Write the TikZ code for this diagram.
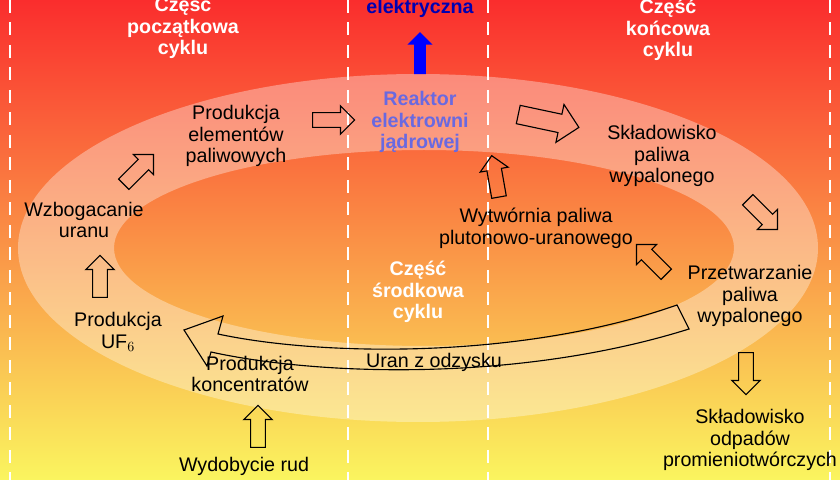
\documentclass[tikz,border=0pt]{standalone}
\usepackage{fontspec}
\setmainfont{Liberation Sans}
\usetikzlibrary{shapes.arrows}
\definecolor{bgred}{RGB}{250,45,45}
\definecolor{bgorange}{RGB}{250,150,70}
\definecolor{bgyellow}{RGB}{250,245,95}
\definecolor{reakblue}{RGB}{105,105,225}
\tikzset{
  txt/.style={align=center,font=\fontsize{14}{15.5}\selectfont},
  head/.style={txt,text=white,font=\fontsize{14}{15.5}\selectfont\bfseries},
  harrow/.style={single arrow,draw=black,thick,fill=none,minimum height=1.05cm,
    inner sep=0.17cm,single arrow head extend=0.17cm},
  divider/.style={white,thick,dash pattern=on 9pt off 7pt}
}
\begin{document}
\begin{tikzpicture}
	\useasboundingbox (0,0) rectangle (21,12);
	\shade[top color=bgred, middle color=bgorange, bottom color=bgyellow] (0,0) rectangle (21,12);
	% jasny pierscien cyklu
	\fill[white,opacity=0.35,even odd rule] (10.45,5.8) ellipse (10 and 4.35) (10.6,5.8) ellipse (7.75 and 2.45);
	\foreach \x in {0.25,8.7,12.2,20.75}
	  \draw[divider] (\x,12) -- (\x,0);
	% naglowki
	\node[head] (H1) at (4.575,11.3) {Część\\początkowa\\cyklu};
	\node[head] (H2) at (10.45,4.7) {Część\\środkowa\\cyklu};
	\node[head] (H3) at (16.7,11.25) {Część\\końcowa\\cyklu};
	\node[txt,text=blue!70!black,font=\fontsize{14}{15.5}\selectfont\bfseries] (E) at (10.5,12.05) {Energia\\elektryczna};
	% etapy
	\node[txt] (WR) at (6.1,0.35) {Wydobycie rud};
	\node[txt] (PK) at (6.25,2.65) {Produkcja\\koncentratów};
	\node[txt] (PU) at (2.95,3.7) {Produkcja\\UF$_6$};
	\node[txt] (WU) at (2.1,6.5) {Wzbogacanie\\uranu};
	\node[txt] (PE) at (5.9,8.6) {Produkcja\\elementów\\paliwowych};
	\node[txt,text=reakblue,font=\fontsize{14}{15.5}\selectfont\bfseries] (RE) at (10.5,8.95) {Reaktor\\elektrowni\\jądrowej};
	\node[txt] (SP) at (16.55,8.1) {Składowisko\\paliwa\\wypalonego};
	\node[txt] (WP) at (13.4,6.3) {Wytwórnia paliwa\\plutonowo-uranowego};
	\node[txt] (PW) at (18.75,4.6) {Przetwarzanie\\paliwa\\wypalonego};
	\node[txt] (SO) at (18.75,1.0) {Składowisko\\odpadów\\promieniotwórczych};
	% strzalki
	\node[harrow,rotate=90] (A1) at (6.45,1.25) {};
	\node[harrow,rotate=90] (A2) at (2.5,5.0) {};
	\node[harrow,rotate=45] (A3) at (3.4,7.7) {};
	\node[harrow] (A4) at (8.25,9.0) {};
	\node[harrow,rotate=90,fill=blue,draw=none,inner sep=0.13cm] (A5) at (10.5,10.6) {};
	\node[harrow,rotate=-12,minimum height=1.55cm,inner sep=0.22cm,single arrow head extend=0.25cm] (A6) at (13.6,9.0) {};
	\node[harrow,rotate=-45] (A7) at (19.0,6.7) {};
	\node[harrow,rotate=-90] (A8) at (18.65,2.75) {};
	\node[harrow,rotate=135] (A9) at (16.35,5.45) {};
	\node[harrow,rotate=100] (A10) at (12.4,7.5) {};
	% uran z odzysku
	\draw[thick] (4.6,3.75) -- (5.575,4.1) -- (5.45,3.65)
	  .. controls (8,3.1) and (13,3.0) .. (16.925,4.375) -- (17.225,3.775)
	  .. controls (13,2.45) and (8,2.6) .. (5.275,3.2) -- (5.175,2.85) -- cycle;
	\node[txt] (UO) at (10.85,2.95) {Uran z odzysku};
\end{tikzpicture}
\end{document}
